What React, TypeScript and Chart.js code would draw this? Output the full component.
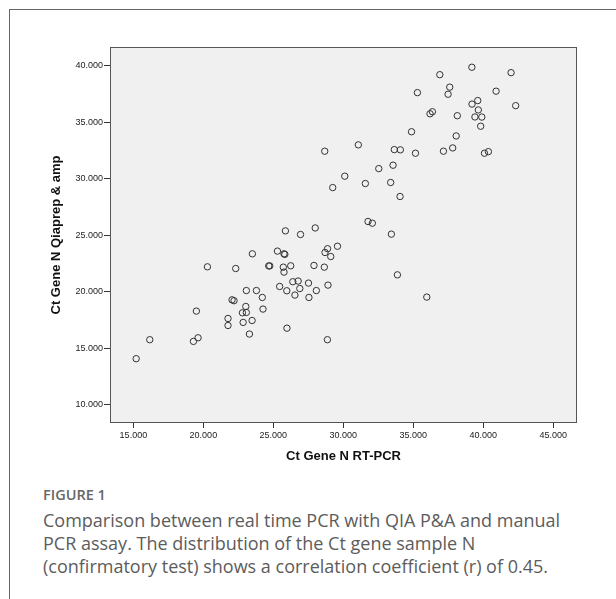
import React, { useEffect, useRef } from "react";
import { Chart, registerables } from "chart.js";

Chart.register(...registerables);

// Ct values
const ctRtPcr = [
  15.2, 16.17, 19.29, 19.62, 19.5, 20.29, 21.76, 21.76, 22.05, 22.19,
  22.31, 22.79, 22.84, 23.03, 23.07, 23.07, 23.29, 23.48, 23.5, 23.79,
  24.21, 24.26, 24.67, 24.74, 25.29, 25.45, 25.76, 25.82, 25.71, 25.76,
  25.86, 25.96, 25.97, 26.24, 26.39, 26.54, 26.77, 26.89, 26.94, 27.51,
  27.54, 27.9, 27.99, 28.07, 28.64, 28.69, 28.87, 28.86, 28.9, 29.1,
  29.58, 28.67, 29.24, 30.1, 31.07, 31.57, 31.76, 32.07, 32.53, 33.38,
  33.43, 33.55, 33.64, 33.86, 34.05, 34.07, 34.87, 35.15, 35.29, 35.96,
  36.19, 36.36, 36.89, 37.15, 37.48, 37.6, 37.81, 38.06, 38.14, 39.18,
  39.19, 39.4, 39.6, 39.64, 39.81, 39.89, 40.08, 40.36, 40.91, 41.98,
  42.31,
];
const ctQiaprep = [
  14.07, 15.75, 15.6, 15.92, 18.28, 22.2, 17.63, 17.01, 19.28, 19.2,
  22.05, 18.13, 17.28, 18.69, 18.16, 20.1, 16.25, 17.45, 23.35, 20.1,
  19.49, 18.46, 22.28, 22.28, 23.59, 20.46, 23.35, 23.3, 22.17, 21.73,
  25.38, 20.08, 16.77, 22.29, 20.88, 19.7, 20.94, 20.28, 25.06, 20.76,
  19.49, 22.32, 25.64, 20.1, 22.17, 23.47, 23.8, 15.75, 20.58, 23.11,
  24.02, 32.43, 29.21, 30.22, 32.99, 29.57, 26.21, 26.06, 30.89, 29.66,
  25.09, 31.19, 32.57, 21.49, 28.42, 32.55, 34.15, 32.25, 37.61, 19.52,
  35.74, 35.92, 39.2, 32.43, 37.47, 38.1, 32.72, 33.78, 35.57, 39.86,
  36.6, 35.46, 36.91, 36.08, 34.64, 35.45, 32.25, 32.39, 37.74, 39.38,
  36.46,
];

const xTickValues = [15, 20, 25, 30, 35, 40, 45];
const yTickValues = [10, 15, 20, 25, 30, 35, 40];
const xRange = [13.33, 46.69];
const yRange = [8.38, 41.65];

const xAxisTitle = "Ct Gene N RT-PCR";
const yAxisTitle = "Ct Gene N Qiaprep & amp";
const figureLabel = "FIGURE 1";
const captionLines = [
  "Comparison between real time PCR with QIA P&A and manual",
  "PCR assay. The distribution of the Ct gene sample N",
  "(confirmatory test) shows a correlation coefficient (r) of 0.45.",
];

const plotFrame = {
  id: "plotFrame",
  beforeDraw(chart: any) {
    const { ctx, chartArea } = chart;
    ctx.save();
    ctx.fillStyle = "#f0f0f0";
    ctx.fillRect(chartArea.left, chartArea.top, chartArea.right - chartArea.left, chartArea.bottom - chartArea.top);
    ctx.restore();
  },
  afterDraw(chart: any) {
    const { ctx, chartArea } = chart;
    ctx.save();
    ctx.strokeStyle = "#555";
    ctx.lineWidth = 1;
    ctx.strokeRect(
      Math.round(chartArea.left) + 0.5,
      Math.round(chartArea.top) + 0.5,
      Math.round(chartArea.right - chartArea.left) - 1,
      Math.round(chartArea.bottom - chartArea.top) - 1
    );
    ctx.restore();
  },
};

const fontFamily = "'Liberation Sans', Arial, sans-serif";

export default function App() {
  const canvasRef = useRef<HTMLCanvasElement | null>(null);

  useEffect(() => {
    if (!canvasRef.current) return;
    const points = ctRtPcr.map((x, i) => ({ x, y: ctQiaprep[i] }));
    const chart = new Chart(canvasRef.current, {
      type: "scatter",
      data: {
        datasets: [
          {
            data: points,
            pointStyle: "circle",
            pointRadius: 3.2,
            pointBorderWidth: 1,
            pointBorderColor: "#333",
            pointBackgroundColor: "rgba(0,0,0,0)",
            showLine: false,
          },
        ],
      },
      options: {
        animation: false,
        responsive: false,
        maintainAspectRatio: false,
        events: [],
        layout: { padding: { left: 0, top: 47, right: 39, bottom: 0 } },
        plugins: {
          legend: { display: false },
          tooltip: { enabled: false },
          title: { display: false },
        },
        scales: {
          x: {
            type: "linear",
            min: xRange[0],
            max: xRange[1],
            afterBuildTicks: (scale: any) => {
              scale.ticks = xTickValues.map((v) => ({ value: v }));
            },
            afterFit: (scale: any) => {
              scale.height = 47;
            },
            border: { display: false },
            grid: {
              drawOnChartArea: false,
              drawTicks: true,
              tickLength: 5,
              tickColor: "#333",
              lineWidth: 1,
            },
            ticks: {
              padding: 2,
              maxRotation: 0,
              color: "#222",
              font: { family: fontFamily, size: 9 },
              callback: (v: any) => Number(v).toFixed(3),
            },
            title: {
              display: true,
              text: xAxisTitle,
              color: "#111",
              font: { family: fontFamily, size: 13, weight: "bold" },
              padding: { top: 0, bottom: 5.5 },
            },
          },
          y: {
            type: "linear",
            min: yRange[0],
            max: yRange[1],
            afterBuildTicks: (scale: any) => {
              scale.ticks = yTickValues.map((v) => ({ value: v }));
            },
            afterFit: (scale: any) => {
              scale.width = 110;
            },
            border: { display: false },
            grid: {
              drawOnChartArea: false,
              drawTicks: true,
              tickLength: 6,
              tickColor: "#333",
              lineWidth: 1,
            },
            ticks: {
              padding: 1,
              color: "#222",
              font: { family: fontFamily, size: 9 },
              callback: (v: any) => Number(v).toFixed(3),
            },
            title: {
              display: true,
              text: yAxisTitle,
              color: "#111",
              font: { family: fontFamily, size: 13, weight: "bold" },
              padding: { top: 49, bottom: 0 },
            },
          },
        },
      },
      plugins: [plotFrame],
    });
    return () => chart.destroy();
  }, []);

  return (
    <div
      style={{
        position: "fixed",
        left: 0,
        top: 0,
        width: 616,
        height: 599,
        overflow: "hidden",
        background: "#fff",
      }}
    >
      <div
        style={{
          position: "absolute",
          left: 9,
          top: 9,
          width: 800,
          height: 800,
          border: "1px solid #666",
        }}
      />
      <canvas
        ref={canvasRef}
        width={616}
        height={470}
        style={{ position: "absolute", left: 0, top: 0, width: 616, height: 470 }}
      />
      <div
        style={{
          position: "absolute",
          left: 43,
          top: 485,
          fontFamily: "'Open Sans', sans-serif",
          fontWeight: 600,
          fontSize: 14.5,
          lineHeight: "20px",
          color: "#666",
          whiteSpace: "nowrap",
        }}
      >
        {figureLabel}
      </div>
      <div
        style={{
          position: "absolute",
          left: 43,
          top: 509,
          fontFamily: "'Open Sans', sans-serif",
          fontWeight: 400,
          fontSize: 18,
          lineHeight: "23px",
          color: "#5c5c5c",
          whiteSpace: "nowrap",
        }}
      >
        {captionLines.map((line, i) => (
          <div key={i}>{line}</div>
        ))}
      </div>
    </div>
  );
}
